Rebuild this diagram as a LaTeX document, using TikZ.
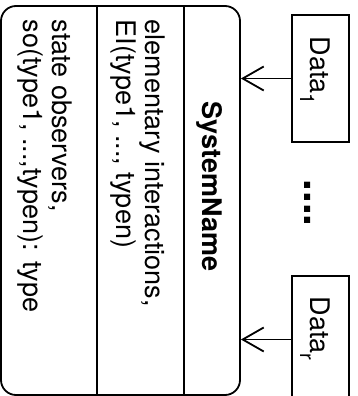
\documentclass[tikz,border=0pt]{standalone}
\usepackage{fontspec}
\setmainfont{texgyreheros}[Extension=.otf, UprightFont=*-regular, BoldFont=*-bold, ItalicFont=*-italic, BoldItalicFont=*-bolditalic]
\usetikzlibrary{arrows.meta}
\begin{document}
\begin{tikzpicture}[x=1pt,y=-1pt, line width=1.8pt,
  box/.style={draw, inner sep=0pt},
  txt/.style={rotate=-90, inner sep=0pt, font=\fontsize{27}{29}\selectfont, align=left},
  arr/.style={-{Straight Barb[length=21pt,width=24pt]}}]
\useasboundingbox (0,0) rectangle (357,396);
% class box
\node[box, rounded corners=15pt, minimum width=239pt, minimum height=389pt] (sys) at (120.5,200.5) {};
\draw (97,6) -- (97,395);
\draw (184,6) -- (184,395);
\node[txt, font=\fontsize{27}{29}\selectfont\bfseries, anchor=base] (title) at (202,186.5) {SystemName};
\node[txt, anchor=north west] (ei) at (165.7,19) {elementary interactions,\\EI(type1, ..., typen)};
\node[txt, anchor=north west] (so) at (73,19) {state observers,\\so(type1, ...,typen): type};
% data boxes
\node[box, minimum width=57pt, minimum height=127pt] (d1) at (320.5,78.5) {};
\node[box, minimum width=57pt, minimum height=127pt] (dr) at (320.5,339.5) {};
\node[txt, anchor=base west] (l1) at (310,36) {Data\raisebox{-10pt}{\fontsize{20}{20}\selectfont 1}};
\node[txt, anchor=base west] (lr) at (310,296) {Data\raisebox{-10pt}{\fontsize{20}{20}\selectfont r}};
\node[rotate=-90, inner sep=0pt, font=\fontsize{42}{42}\selectfont\bfseries] (dots) at (308,203) {....};
% connectors
\draw[arr] (d1.west) -- (d1.west -| sys.east);
\draw[arr] (dr.west) -- (dr.west -| sys.east);
\end{tikzpicture}
\end{document}
